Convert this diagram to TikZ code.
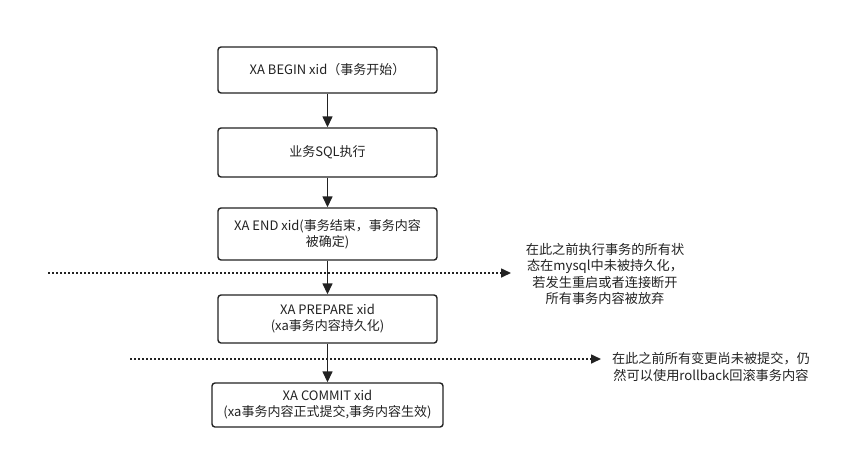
\documentclass[tikz,border=0pt]{standalone}
\usepackage{fontspec}
\setmainfont{Noto Sans CJK SC}
\usetikzlibrary{arrows.meta}
\definecolor{ink}{HTML}{222222}
\begin{document}
\begin{tikzpicture}[x=1pt,y=-1pt,
  box/.style={draw=ink,line width=1.4pt,rounded corners=3pt,inner sep=0pt,align=center,
    font=\fontsize{13}{16}\selectfont,text=ink},
  arr/.style={draw=ink,line width=1.4pt,-{Triangle[length=11pt,width=10pt]}},
  dots/.style={draw=ink,line width=1.6pt,dash pattern=on 1.6pt off 2.4pt,
    -{Triangle[length=10pt,width=9pt]}},
  note/.style={align=center,inner sep=0pt,font=\fontsize{13.2}{16.5}\selectfont,text=ink}]
\useasboundingbox (0,0) rectangle (843,459);
\node[box,minimum width=219pt,minimum height=46pt] (b1) at (327.5,70) {XA BEGIN xid（事务开始）};
\node[box,minimum width=219pt,minimum height=49pt] (b2) at (327.5,152.5) {业务SQL执行};
\node[box,minimum width=219pt,minimum height=52pt] (b3) at (327.5,234) {XA END xid(事务结束，事务内容\\被确定)};
\node[box,minimum width=219pt,minimum height=48pt] (b4) at (327.5,319) {XA PREPARE xid\\(xa事务内容持久化)};
\node[box,minimum width=231pt,minimum height=44pt] (b5) at (327.5,405) {XA COMMIT xid\\(xa事务内容正式提交,事务内容生效)};
\draw[arr] (b1) -- (b2);
\draw[arr] (b2) -- (b3);
\draw[arr] (b3) -- (b4);
\draw[arr] (b4) -- (b5);
\coordinate (d1s) at (48,273);
\coordinate (d1e) at (511,273);
\coordinate (d2s) at (130,359);
\coordinate (d2e) at (601,359);
\draw[dots] (d1s) -- (d1e);
\draw[dots] (d2s) -- (d2e);
\node[note] (n1) at (605,274) {在此之前执行事务的所有状\\态在mysql中未被持久化，\\若发生重启或者连接断开\\所有事务内容被放弃};
\node[note] (n2) at (711,367) {在此之前所有变更尚未被提交，仍\\然可以使用rollback回滚事务内容};
\end{tikzpicture}
\end{document}
